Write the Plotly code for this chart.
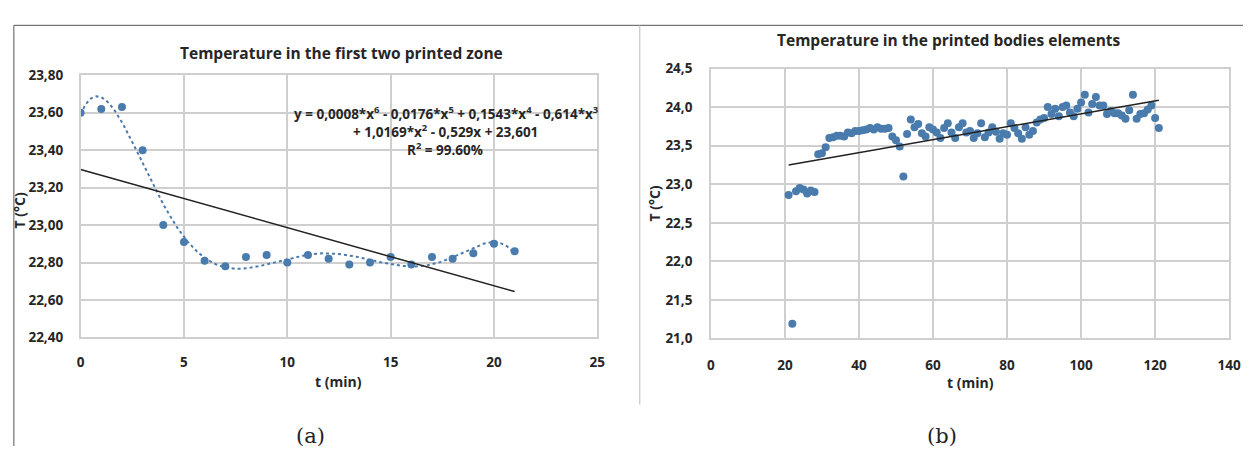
import numpy as np
import plotly.graph_objects as go

# ---- Panel (a): first two printed zone ----
t_a = [0, 1, 2, 3, 4, 5, 6, 7, 8, 9, 10, 11, 12, 13, 14, 15, 16, 17, 18, 19, 20, 21]
temp_a = [23.60, 23.62, 23.63, 23.40, 23.00, 22.91, 22.81, 22.78, 22.83, 22.84, 22.80,
          22.84, 22.82, 22.79, 22.80, 22.83, 22.79, 22.83, 22.82, 22.85, 22.90, 22.86]
trend_a_t = [0, 21]
trend_a_T = [23.297, 22.645]
xticks_a = [0, 5, 10, 15, 20, 25]
xlabels_a = ["0", "5", "10", "15", "20", "25"]
yticks_a = [22.4, 22.6, 22.8, 23.0, 23.2, 23.4, 23.6, 23.8]
ylabels_a = ["22,40", "22,60", "22,80", "23,00", "23,20", "23,40", "23,60", "23,80"]

# ---- Panel (b): printed bodies elements ----
t_b = list(range(21, 122))
temp_b = [22.86, 21.19, 22.91, 22.95, 22.93, 22.88, 22.92, 22.90, 23.39, 23.40,
          23.48, 23.60, 23.61, 23.63, 23.63, 23.62, 23.67, 23.66, 23.69, 23.69,
          23.70, 23.71, 23.73, 23.71, 23.74, 23.72, 23.72, 23.73, 23.62, 23.57,
          23.49, 23.10, 23.65, 23.84, 23.74, 23.78, 23.66, 23.62, 23.74, 23.71,
          23.67, 23.60, 23.73, 23.79, 23.67, 23.60, 23.74, 23.79, 23.67, 23.69,
          23.60, 23.66, 23.79, 23.61, 23.67, 23.74, 23.68, 23.59, 23.66, 23.64,
          23.79, 23.73, 23.66, 23.59, 23.74, 23.64, 23.69, 23.80, 23.84, 23.86,
          24.00, 23.91, 23.98, 23.88, 24.00, 24.02, 23.93, 23.88, 23.98, 24.06,
          24.16, 23.93, 24.04, 24.13, 24.02, 24.02, 23.91, 23.95, 23.92, 23.92,
          23.89, 23.85, 23.96, 24.16, 23.85, 23.91, 23.92, 23.97, 24.02, 23.86,
          23.73]
trend_b_t = [21, 121]
trend_b_T = [23.25, 24.09]
xticks_b = [0, 20, 40, 60, 80, 100, 120, 140]
xlabels_b = ["0", "20", "40", "60", "80", "100", "120", "140"]
yticks_b = [21.0, 21.5, 22.0, 22.5, 23.0, 23.5, 24.0, 24.5]
ylabels_b = ["21,0", "21,5", "22,0", "22,5", "23,0", "23,5", "24,0", "24,5"]

# 6th-order polynomial trendline through panel (a) points
coef = np.polyfit(t_a, temp_a, 6)
t_fine = np.linspace(0, 21, 400)
poly_fine = np.polyval(coef, t_fine)

W, H = 1255, 455
BLUE = "#4a7bad"
GRID = "#cfcfcf"
FONT = "Open Sans"


def px(xp):
    return xp / W


def py(yp):
    return 1 - yp / H


fig = go.Figure()

fig.add_trace(go.Scatter(x=t_a, y=temp_a, mode="markers",
                         marker=dict(color=BLUE, size=8), xaxis="x", yaxis="y"))
fig.add_trace(go.Scatter(x=t_fine, y=poly_fine, mode="lines",
                         line=dict(color=BLUE, width=2, dash="dot"), xaxis="x", yaxis="y"))
fig.add_trace(go.Scatter(x=trend_a_t, y=trend_a_T, mode="lines",
                         line=dict(color="#222222", width=1.5), xaxis="x", yaxis="y"))

fig.add_trace(go.Scatter(x=t_b, y=temp_b, mode="markers",
                         marker=dict(color=BLUE, size=8), xaxis="x2", yaxis="y2"))
fig.add_trace(go.Scatter(x=trend_b_t, y=trend_b_T, mode="lines",
                         line=dict(color="#222222", width=1.5), xaxis="x2", yaxis="y2"))

tickfont = dict(family=FONT, size=13.5, color="#262626", weight="bold")
axis_common = dict(showgrid=True, gridcolor=GRID, gridwidth=1.5, zeroline=False,
                   showline=True, linecolor=GRID, linewidth=1.5, mirror=True,
                   ticks="", tickfont=tickfont, fixedrange=True)

fig.update_layout(
    width=W, height=H,
    margin=dict(l=0, r=0, t=0, b=0),
    paper_bgcolor="white", plot_bgcolor="white",
    showlegend=False,
    xaxis=dict(domain=[px(77.6), px(601)], range=[0, 25], tickvals=xticks_a,
               ticktext=xlabels_a, anchor="y", ticklabelstandoff=12, **axis_common),
    yaxis=dict(domain=[py(342), py(69)], range=[22.4, 23.8], tickvals=yticks_a,
               ticktext=ylabels_a, anchor="x", ticklabelstandoff=13, **axis_common),
    xaxis2=dict(domain=[px(716), px(1241)], range=[0, 140], tickvals=xticks_b,
                ticktext=xlabels_b, anchor="y2", ticklabelstandoff=14, **axis_common),
    yaxis2=dict(domain=[py(343), py(62)], range=[21.0, 24.5], tickvals=yticks_b,
                ticktext=ylabels_b, anchor="x2", ticklabelstandoff=14, **axis_common),
)

title_font = dict(family=FONT, size=15.5, color="#262626", weight="bold")
label_font = dict(family=FONT, size=14, color="#262626", weight="bold")
eq_font = dict(family=FONT, size=13.5, color="#262626", weight="bold")
cap_font = dict(family="DejaVu Serif", size=21, color="#222222")
annotations = [
    dict(text="Temperature in the first two printed zone", x=px(342), y=py(46), font=title_font),
    dict(text="Temperature in the printed bodies elements", x=px(957), y=py(32), font=title_font),
    dict(text="t (min)", x=px(339), y=py(388), font=label_font),
    dict(text="t (min)", x=px(979), y=py(389), font=label_font),
    dict(text="T (°C)", x=px(16), y=py(210), font=label_font, textangle=-90),
    dict(text="T (°C)", x=px(659), y=py(203), font=label_font, textangle=-90),
    dict(text="y = 0,0008*x<sup>6</sup> - 0,0176*x<sup>5</sup> + 0,1543*x<sup>4</sup> - 0,614*x<sup>3</sup>",
         x=px(448), y=py(108), font=eq_font),
    dict(text="+ 1,0169*x<sup>2</sup> - 0,529x + 23,601", x=px(447), y=py(127), font=eq_font),
    dict(text="R<sup>2</sup> = 99.60%", x=px(447), y=py(146), font=eq_font),
    dict(text="(a)", x=px(310), y=py(445), font=cap_font),
    dict(text="(b)", x=px(950), y=py(445), font=cap_font),
]
for a in annotations:
    a.update(xref="paper", yref="paper", showarrow=False, xanchor="center", yanchor="middle")
fig.update_layout(annotations=annotations)

# Panel frames
frame = dict(type="line", xref="paper", yref="paper")
fig.update_layout(shapes=[
    dict(frame, x0=px(10), x1=1, y0=py(17), y1=py(17), line=dict(color="#555555", width=1)),
    dict(frame, x0=px(10), x1=px(10), y0=0, y1=py(17), line=dict(color="#555555", width=1)),
    dict(frame, x0=px(644), x1=px(644), y0=py(412), y1=py(17), line=dict(color="#bdbdbd", width=1)),
])

fig.write_html("out.html")
